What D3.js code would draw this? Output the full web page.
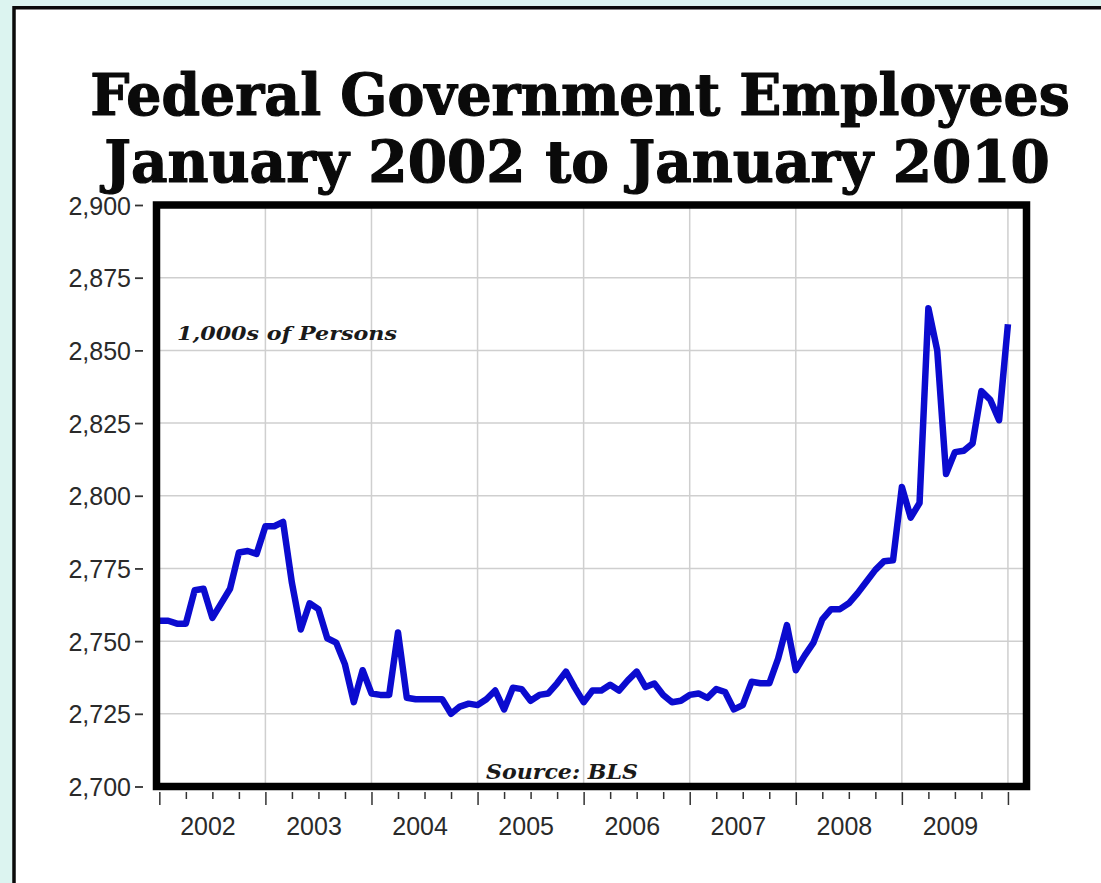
<!DOCTYPE html>
<html>
<head>
<meta charset="utf-8">
<script src="https://cdn.jsdelivr.net/npm/d3@7"></script>
<style>
  html, body { margin: 0; padding: 0; background: #dcf4f0; }
  svg { display: block; }
</style>
</head>
<body>
<script>
// Federal government employment, thousands of persons, monthly Jan 2002 – Jan 2010
const startYear = 2002;
const employment = [
  2757, 2757, 2756, 2756, 2767.5, 2768, 2758, 2763, 2768, 2780.5, 2781, 2780,   // 2002
  2789.5, 2789.5, 2791, 2770, 2754, 2763, 2761, 2751, 2749.5, 2742, 2729, 2740, // 2003
  2732, 2731.5, 2731.5, 2753, 2730.5, 2730, 2730, 2730, 2730, 2725, 2727.5, 2728.5, // 2004
  2728, 2730, 2733, 2726.5, 2734, 2733.5, 2729.5, 2731.5, 2732, 2735.5, 2739.5, 2734, // 2005
  2729, 2733, 2733, 2735, 2733, 2736.5, 2739.5, 2734.2, 2735.4, 2731.5, 2729, 2729.5, // 2006
  2731.5, 2732, 2730.5, 2733.5, 2732.5, 2726.5, 2728, 2736, 2735.5, 2735.5, 2744, 2755.5, // 2007
  2740, 2745, 2749.5, 2757.5, 2761, 2761, 2763, 2766.5, 2770.5, 2774.5, 2777.5, 2777.8, // 2008
  2803, 2792.5, 2797.5, 2864.5, 2850, 2807.5, 2815, 2815.5, 2818, 2836, 2833, 2826, // 2009
  2859 // Jan 2010
];
const yearLabels = ["2002", "2003", "2004", "2005", "2006", "2007", "2008", "2009"];
const yTicks = [2700, 2725, 2750, 2775, 2800, 2825, 2850, 2875, 2900];
const titleLines = ["Federal Government Employees", "January 2002 to January 2010"];
const unitNote = "1,000s of Persons";
const sourceNote = "Source: BLS";

const W = 1101, H = 883;
const svg = d3.select("body").append("svg").attr("width", W).attr("height", H);

// page panel with dark edge
svg.append("rect").attr("x", 0).attr("y", 0).attr("width", W).attr("height", H).attr("fill", "#dcf4f0");
svg.append("rect").attr("x", 14).attr("y", 7.75).attr("width", W + 20).attr("height", H + 20)
  .attr("fill", "#ffffff").attr("stroke", "#0a0a0a").attr("stroke-width", 3.5);

// plot area
const plot = { left: 156.5, right: 1026.5, top: 205, bottom: 786.5 };
const monthIdx = employment.map((d, i) => i);
const x = d3.scaleLinear().domain([-0.32, 98.1]).range([plot.left, plot.right]);
const y = d3.scaleLinear().domain([2700, 2900]).range([plot.bottom, plot.top]);

// squeeze a text horizontally so it spans the given width, centred on cx
function fitText(sel, cx, baseline, width) {
  const natural = sel.node().getComputedTextLength();
  const sx = width / natural;
  sel.attr("x", 0).attr("y", 0).attr("text-anchor", "middle")
    .attr("transform", `translate(${cx},${baseline}) scale(${sx},1)`);
}
function fitTextLeft(sel, left, baseline, width) {
  const natural = sel.node().getComputedTextLength();
  const sx = width / natural;
  sel.attr("x", 0).attr("y", 0)
    .attr("transform", `translate(${left},${baseline}) scale(${sx},1)`);
}

// title
const title = svg.append("g")
  .attr("font-family", "'DejaVu Serif', 'Liberation Serif', serif")
  .attr("font-weight", "bold").attr("fill", "#0a0a0a")
  .attr("stroke", "#0a0a0a").attr("stroke-width", 1.2).attr("stroke-linejoin", "round");
fitText(title.append("text").attr("font-size", 58).text(titleLines[0]), 580, 115, 980);
fitText(title.append("text").attr("font-size", 57).text(titleLines[1]), 577, 182, 946);

// grid
const grid = svg.append("g").attr("stroke", "#cfcfcf").attr("stroke-width", 1.5);
grid.selectAll("line.h").data(yTicks.slice(1, -1)).join("line").attr("class", "h")
  .attr("x1", plot.left).attr("x2", plot.right)
  .attr("y1", d => y(d)).attr("y2", d => y(d));
const yearStarts = d3.range(1, yearLabels.length + 1).map(k => k * 12);
grid.selectAll("line.v").data(yearStarts).join("line").attr("class", "v")
  .attr("y1", plot.top).attr("y2", plot.bottom)
  .attr("x1", d => x(d)).attr("x2", d => x(d));

// series line
const line = d3.line().x((d, i) => x(monthIdx[i])).y(d => y(d)).curve(d3.curveLinear);
svg.append("path").datum(employment)
  .attr("fill", "none").attr("stroke", "#0b0bcf").attr("stroke-width", 6.5)
  .attr("stroke-linejoin", "round").attr("stroke-linecap", "butt")
  .attr("d", line);

// notes inside the plot
const notes = svg.append("g")
  .attr("font-family", "'DejaVu Serif', 'Liberation Serif', serif")
  .attr("font-weight", "bold").attr("font-style", "italic").attr("fill", "#1a1a1a");
fitTextLeft(notes.append("text").attr("font-size", 18).text(unitNote), 177, 340, 220);
fitTextLeft(notes.append("text").attr("font-size", 20).text(sourceNote), 486, 779, 152);

// frame
svg.append("rect")
  .attr("x", plot.left).attr("y", plot.top)
  .attr("width", plot.right - plot.left).attr("height", plot.bottom - plot.top)
  .attr("fill", "none").attr("stroke", "#000").attr("stroke-width", 7.5);

// y axis: labels and short dashes left of the frame
const yAxis = d3.axisLeft(y).tickValues(yTicks).tickFormat(d3.format(",")).tickSize(8).tickPadding(4);
const yg = svg.append("g").attr("transform", `translate(${143},0)`).call(yAxis);
yg.select(".domain").remove();
yg.selectAll(".tick line").attr("stroke", "#333").attr("stroke-width", 1.8);
yg.selectAll(".tick text").attr("font-family", "'Liberation Sans', Arial, sans-serif")
  .attr("font-size", 25).attr("fill", "#2a2a2a").attr("dy", "0.36em");

// x axis: long ticks at each January, short ticks at each quarter
const axisY = 792;
const majorTicks = d3.range(0, 97, 12);
const minorTicks = d3.range(0, 97, 3).filter(m => m % 12 !== 0);
const xMajor = svg.append("g").attr("transform", `translate(0,${axisY})`)
  .call(d3.axisBottom(x).tickValues(majorTicks).tickSize(13).tickFormat(""));
const xMinor = svg.append("g").attr("transform", `translate(0,${axisY})`)
  .call(d3.axisBottom(x).tickValues(minorTicks).tickSize(7).tickFormat(""));
[xMajor, xMinor].forEach(g => {
  g.select(".domain").remove();
  g.selectAll(".tick line").attr("stroke", "#333").attr("stroke-width", 1.5);
});
svg.append("g").selectAll("text").data(yearLabels).join("text")
  .attr("x", (d, i) => x(i * 12 + 5.5)).attr("y", 835)
  .attr("text-anchor", "middle")
  .attr("font-family", "'Liberation Sans', Arial, sans-serif").attr("font-size", 25)
  .attr("fill", "#2a2a2a").text(d => d);
</script>
</body>
</html>
